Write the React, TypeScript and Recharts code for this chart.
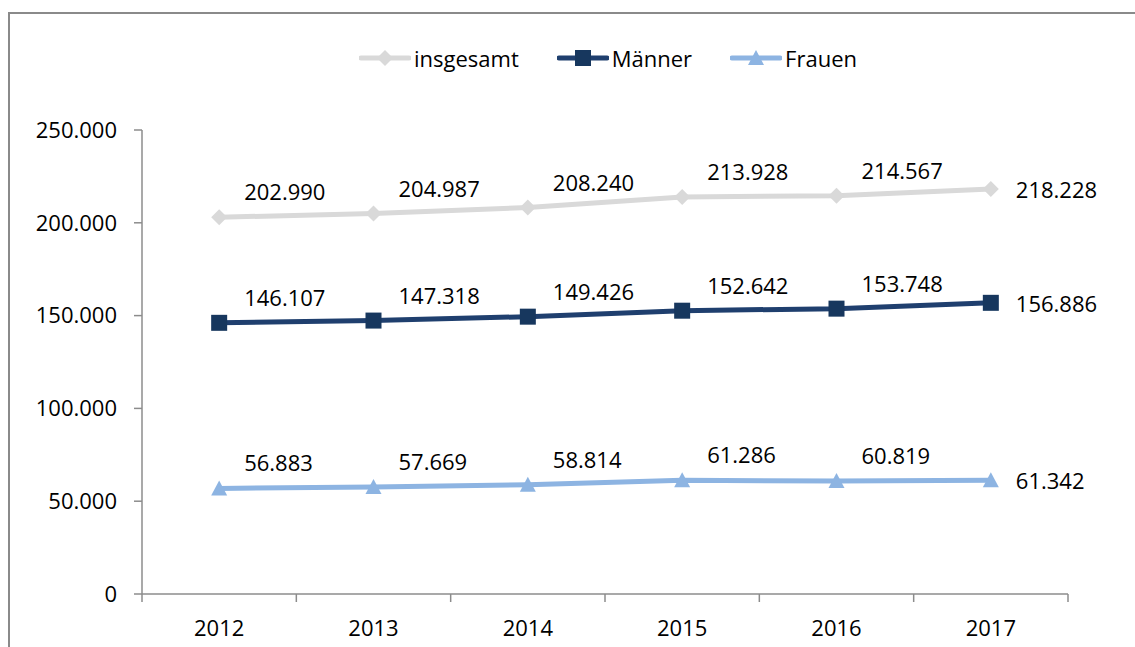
import React from "react"
import { LineChart, Line, XAxis, YAxis, Legend, LabelList } from "recharts"

const years = ["2012", "2013", "2014", "2015", "2016", "2017"]
const insgesamt = [202990, 204987, 208240, 213928, 214567, 218228]
const maenner = [146107, 147318, 149426, 152642, 153748, 156886]
const frauen = [56883, 57669, 58814, 61286, 60819, 61342]
const yTicks = [0, 50000, 100000, 150000, 200000, 250000]

const data = years.map((year, i) => ({
  year,
  insgesamt: insgesamt[i],
  maenner: maenner[i],
  frauen: frauen[i],
}))

const W = 1135
const H = 647
const PLOT_LEFT = 142
const PLOT_RIGHT = 1068
const PLOT_TOP = 130
const PLOT_BOTTOM = 594
const HALF_BAND = (PLOT_RIGHT - PLOT_LEFT) / years.length / 2
const FONT = "'Open Sans', sans-serif"
const AXIS = "#8C8C8C"

const C_ALL = "#D9D9D9"
const C_MEN = "#1F3F6E"
const C_MEN_DOT = "#17375E"
const C_WOMEN = "#8DB4E2"

const fmt = (v: number) => String(v).replace(/\B(?=(\d{3})+(?!\d))/g, ".")

const Diamond = ({ cx, cy, color, r = 8 }: any) => (
  <path d={`M${cx},${cy - r}L${cx + r},${cy}L${cx},${cy + r}L${cx - r},${cy}Z`} fill={color} />
)
const Square = ({ cx, cy, color, r = 8 }: any) => (
  <rect x={cx - r} y={cy - r} width={2 * r} height={2 * r} fill={color} />
)
const Triangle = ({ cx, cy, color, r = 8 }: any) => (
  <path d={`M${cx},${cy - r}L${cx + r},${cy + r - 1}L${cx - r},${cy + r - 1}Z`} fill={color} />
)

const XTick = ({ x, y, payload, index }: any) => (
  <g>
    <line x1={x - HALF_BAND} y1={y} x2={x - HALF_BAND} y2={y + 8} stroke={AXIS} strokeWidth={1.5} />
    {index === years.length - 1 && (
      <line x1={x + HALF_BAND} y1={y} x2={x + HALF_BAND} y2={y + 8} stroke={AXIS} strokeWidth={1.5} />
    )}
    <text x={x} y={y + 42} textAnchor="middle" fontSize={22} fontFamily={FONT} fill="#000">
      {payload.value}
    </text>
  </g>
)

const valueLabel = (props: any) => {
  const { x, y, value, index } = props
  const last = index === years.length - 1
  return (
    <text
      x={x + 25}
      y={last ? y : y - 26}
      dominantBaseline="central"
      textAnchor="start"
      fontSize={22}
      fontFamily={FONT}
      fill="#000"
    >
      {fmt(value)}
    </text>
  )
}

const legendItems = [
  { name: "insgesamt", color: C_ALL, marker: "diamond" },
  { name: "Männer", color: C_MEN, marker: "square" },
  { name: "Frauen", color: C_WOMEN, marker: "triangle" },
]

const LegendContent = () => (
  <div style={{ display: "flex", alignItems: "center", fontFamily: FONT, fontSize: 22, color: "#000", lineHeight: "30px" }}>
    {legendItems.map((it) => (
      <div key={it.name} style={{ display: "flex", alignItems: "center", marginRight: 38 }}>
        <svg width={52} height={22} style={{ marginRight: 3 }}>
          <line x1={2} y1={11} x2={50} y2={11} stroke={it.color} strokeWidth={5} strokeLinecap="round" />
          {it.marker === "diamond" && <Diamond cx={26} cy={11} color={it.color} />}
          {it.marker === "square" && <Square cx={26} cy={11} color={C_MEN_DOT} />}
          {it.marker === "triangle" && <Triangle cx={26} cy={11} color={it.color} />}
        </svg>
        <span>{it.name}</span>
      </div>
    ))}
  </div>
)

export default function App() {
  return (
    <div style={{ position: "absolute", left: 0, top: 0, width: W, height: H, overflow: "hidden", background: "#fff" }}>
      <div
        style={{
          position: "absolute",
          left: 8,
          top: 12,
          width: 1300,
          height: 800,
          borderLeft: "2px solid #8A8A8A",
          borderTop: "2px solid #8A8A8A",
        }}
      />
      <LineChart
        width={W}
        height={H}
        data={data}
        margin={{ top: PLOT_TOP, right: W - PLOT_RIGHT, bottom: 0, left: 0 }}
        style={{ position: "absolute", left: 0, top: 0 }}
      >
        <XAxis
          dataKey="year"
          height={H - PLOT_BOTTOM}
          padding={{ left: HALF_BAND, right: HALF_BAND }}
          axisLine={{ stroke: AXIS, strokeWidth: 1.5 }}
          tickLine={false}
          tickSize={0}
          tickMargin={0}
          tick={<XTick />}
          interval={0}
        />
        <YAxis
          width={PLOT_LEFT}
          domain={[0, 250000]}
          ticks={yTicks}
          interval={0}
          tickFormatter={fmt}
          axisLine={{ stroke: AXIS, strokeWidth: 1.5 }}
          tickLine={{ stroke: AXIS, strokeWidth: 1.5 }}
          tickSize={8}
          tickMargin={17}
          tick={{ fontSize: 22, fontFamily: FONT, fill: "#000" }}
        />
        <Legend
          verticalAlign="middle"
          layout="horizontal"
          content={<LegendContent />}
          wrapperStyle={{ top: 43, left: 359, width: "auto" }}
        />
        <Line
          dataKey="insgesamt"
          stroke={C_ALL}
          strokeWidth={5}
          isAnimationActive={false}
          dot={(p: any) => <Diamond key={p.index} cx={p.cx} cy={p.cy} color={C_ALL} />}
          activeDot={false}
        >
          <LabelList dataKey="insgesamt" content={valueLabel} />
        </Line>
        <Line
          dataKey="maenner"
          stroke={C_MEN}
          strokeWidth={5}
          isAnimationActive={false}
          dot={(p: any) => <Square key={p.index} cx={p.cx} cy={p.cy} color={C_MEN_DOT} />}
          activeDot={false}
        >
          <LabelList dataKey="maenner" content={valueLabel} />
        </Line>
        <Line
          dataKey="frauen"
          stroke={C_WOMEN}
          strokeWidth={5}
          isAnimationActive={false}
          dot={(p: any) => <Triangle key={p.index} cx={p.cx} cy={p.cy} color={C_WOMEN} />}
          activeDot={false}
        >
          <LabelList dataKey="frauen" content={valueLabel} />
        </Line>
      </LineChart>
    </div>
  )
}
